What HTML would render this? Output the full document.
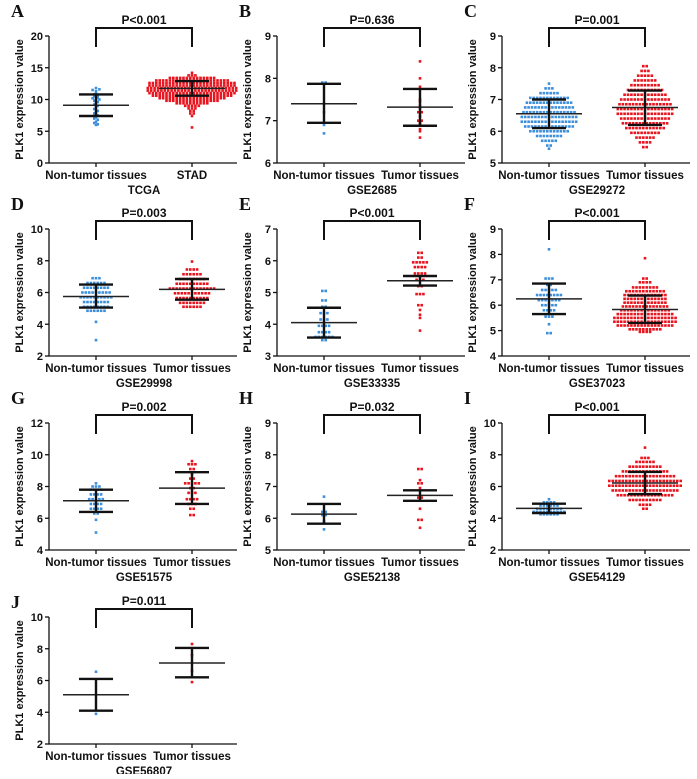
<!DOCTYPE html>
<html><head><meta charset="utf-8"><style>
html,body{margin:0;padding:0;background:#fff;}
svg text{font-family:"Liberation Sans",Arial,sans-serif;font-weight:bold;fill:#111;}
.lt{font-family:"Liberation Serif",serif;font-size:18px;}
</style></head><body>
<svg id="fig" width="697" height="774" viewBox="0 0 697 774" xmlns="http://www.w3.org/2000/svg"></svg>
<script>
// ---- data ----
const panelLetters=["A","B","C","D","E","F","G","H","I","J"];
const datasetTitles=["TCGA","GSE2685","GSE29272","GSE29998","GSE33335","GSE37023","GSE51575","GSE52138","GSE54129","GSE56807"];
const tumorLabels=["STAD","Tumor tissues","Tumor tissues","Tumor tissues","Tumor tissues","Tumor tissues","Tumor tissues","Tumor tissues","Tumor tissues","Tumor tissues"];
const pLabels=["P<0.001","P=0.636","P=0.001","P=0.003","P<0.001","P<0.001","P=0.002","P=0.032","P<0.001","P=0.011"];
const yMins=[0,6,5,2,3,4,4,5,2,2];
const yMaxs=[20,9,9,10,7,9,12,9,10,10];
const yStepsArr=[5,1,1,2,1,1,2,1,2,2];
const normalMean=[9.1,7.4,6.55,5.75,4.05,6.25,7.1,6.13,4.62,5.1];
const normalSdLo=[7.4,6.95,6.1,5.05,3.58,5.65,6.4,5.83,4.33,4.1];
const normalSdHi=[10.8,7.87,7.0,6.5,4.52,6.85,7.8,6.45,4.92,6.1];
const tumorMean=[11.75,7.32,6.75,6.2,5.37,5.83,7.9,6.72,6.22,7.1];
const tumorSdLo=[10.6,6.88,6.2,5.55,5.22,5.3,6.9,6.55,5.52,6.2];
const tumorSdHi=[12.9,7.75,7.28,6.85,5.52,6.38,8.9,6.88,6.92,8.05];
const normalPts=[
"11.8 11.5 11.3 11.0 10.8 10.5 10.3 10.2 10.0 10.0 9.8 9.6 9.5 9.2 9.0 8.8 8.5 8.2 8.0 7.8 7.5 7.2 7.0 6.8 6.5 6.3 6.1 6.0 11.6 10.6",
"7.9*2 7.4 7.2 6.9 6.7",
"7.5 7.35*3 7.2*6 7.05*12 6.9*14 6.75*15 6.6*16 6.45*17 6.3*17 6.15*15 6.0*12 5.85*8 5.7*5 5.55*2 5.45",
"6.9*3 6.6*6 6.3*8 6.0*9 5.7*10 5.4*8 5.1*8 4.85*6 4.15 3.0",
"5.05*2 4.75*2 4.55*2 4.35*3 4.15*3 3.95*4 3.75*4 3.6*6 3.5*2",
"8.2 7.05*3 6.8*2 6.6*5 6.4*8 6.2*7 6.0*5 5.8*4 5.55*3 5.25 4.9*2",
"8.2 8.0*3 7.8*4 7.5*4 7.2*5 6.9*4 6.6*4 6.3*2 5.9 5.1",
"6.68 6.2*2 6.1*2 5.9 5.65",
"5.2 5.0*4 4.8*6 4.6*8 4.4*10 4.25*6",
"6.55 3.9"];
const tumorPts=[
"14.2 13.8*3 13.4*14 13.0*22 12.6*26 12.2*26 11.8*27 11.4*27 11.0*26 10.6*24 10.2*20 9.8*16 9.4*10 9.0*5 8.6*3 8.2*2 7.8*2 7.4 5.6",
"8.4 8.0 7.8 7.75 7.5 7.45 7.35 7.3 7.2*2 7.1 7.0*2 6.95 6.9 6.8 6.75 6.6",
"8.05*2 7.9*3 7.75*5 7.6*7 7.45*9 7.3*11 7.15*13 7.0*15 6.85*16 6.7*17 6.55*17 6.4*15 6.25*14 6.1*12 5.95*9 5.8*6 5.65*4 5.5*2",
"7.95 7.45*4 7.15*6 6.85*8 6.55*10 6.25*14 5.95*11 5.65*10 5.35*8 5.1*6",
"6.25*2 6.1*2 5.95*5 5.8*4 5.6*4 5.4*3 5.2*2 4.95*3 4.6*2 4.45 4.3 4.2 3.8",
"7.85 7.05*2 6.9*4 6.7*8 6.55*12 6.4*13 6.25*13 6.1*13 5.95*14 5.8*15 5.65*17 5.5*19 5.35*19 5.2*17 5.05*10 4.95*4",
"9.6 9.4*3 9.1*2 8.8 8.5*2 8.2*5 7.9*2 7.6*3 7.2*4 6.9*3 6.6*2 6.2*2",
"7.55*2 7.2 7.1*2 6.95 6.65*2 6.3 5.95*2 5.7",
"8.45 7.8*3 7.55*6 7.25*10 6.95*14 6.65*18 6.35*22 6.05*22 5.75*20 5.45*17 5.15*10 4.85*4 4.6*2",
"8.3 7.6 6.6 5.9"];

// ---- layout ----
const colX=[49,277,502];
const rowTop=[36,229,423,617];
const plotH=127;
const NS="http://www.w3.org/2000/svg";
const svg=document.getElementById('fig');
function mk(tag,attrs,parent){const e=document.createElementNS(NS,tag);for(const k in attrs)e.setAttribute(k,attrs[k]);(parent||svg).appendChild(e);return e;}
function parsePts(s){const out=[];s.split(/\s+/).forEach(t=>{if(!t)return;const p=t.split('*');const v=parseFloat(p[0]);const n=p.length>1?parseInt(p[1]):1;for(let i=0;i<n;i++)out.push(v);});return out;}

for(let k=0;k<10;k++){
  const col=k%3,row=Math.floor(k/3);
  const ax=colX[col],top=rowTop[row],bot=top+plotH;
  const c1=ax+47,c2=ax+143,xEnd=ax+188;
  const y=v=>bot-(v-yMins[k])/(yMaxs[k]-yMins[k])*plotH;
  const g=mk('g',{});
  
  
  let t=mk('text',{x:ax-38,y:(row===3?top-15:top-25)+6,class:'lt'},g);t.textContent=panelLetters[k];
  
  let a=mk('path',{d:`M${ax},${top} V${bot} H${xEnd}`,stroke:'#111','stroke-width':1.3,fill:'none'},g);
  
  for(let v=yMins[k];v<=yMaxs[k]+1e-9;v+=yStepsArr[k]){
    mk('line',{x1:ax-4,x2:ax,y1:y(v),y2:y(v),stroke:'#111','stroke-width':1.3},g);
    t=mk('text',{x:ax-6,y:y(v)+4,'text-anchor':'end','font-size':11},g);t.textContent=v;
    
  }
  [c1,c2].forEach(cx=>mk('line',{x1:cx,x2:cx,y1:bot,y2:bot+4,stroke:'#111','stroke-width':1.3},g));
  t=mk('text',{x:ax-26,y:(top+bot)/2,'text-anchor':'middle','font-size':11,transform:`rotate(-90 ${ax-26} ${(top+bot)/2})`},g);
  t.textContent='PLK1 expression value';
  t=mk('text',{x:c1,y:bot+16,'text-anchor':'middle','font-size':11.5},g);t.textContent='Non-tumor tissues';
  
  t=mk('text',{x:c2,y:bot+16,'text-anchor':'middle','font-size':11.5},g);t.textContent=tumorLabels[k];
  
  t=mk('text',{x:(c1+c2)/2,y:bot+31,'text-anchor':'middle','font-size':11.5},g);t.textContent=datasetTitles[k];
  
  a=mk('path',{d:`M${c1},${top+11} V${top-8} H${c2} V${top+11}`,stroke:'#111','stroke-width':2,fill:'none'},g);
  
  t=mk('text',{x:(c1+c2)/2,y:top-12,'text-anchor':'middle','font-size':12},g);t.textContent=pLabels[k];
  
  const groups=[[normalPts[k],c1,'#3d8fdc'],[tumorPts[k],c2,'#e8141e']];
  groups.forEach(([s,cx,color])=>{
    const vals=parsePts(s);const bins={};
    vals.forEach(v=>{const b=Math.round(y(v)/2.2);(bins[b]=bins[b]||[]).push(v);});
    for(const b in bins){const arr=bins[b];const n=arr.length;
      arr.forEach((v,i)=>{
        const dx=(i-(n-1)/2)*3.4;
        const r=mk('rect',{x:cx+dx-1.3,y:y(v)-1.3,width:2.6,height:2.6,fill:color},g);
        
      });}
  });
  const stats=[[c1,normalMean[k],normalSdLo[k],normalSdHi[k]],[c2,tumorMean[k],tumorSdLo[k],tumorSdHi[k]]];
  stats.forEach(([cx,m,lo,hi])=>{
    let l=mk('line',{x1:cx-33,x2:cx+33,y1:y(m),y2:y(m),stroke:'#222','stroke-width':1.5},g);
    
    l=mk('path',{d:`M${cx},${y(lo)} V${y(hi)} M${cx-17},${y(lo)} H${cx+17} M${cx-17},${y(hi)} H${cx+17}`,stroke:'#111','stroke-width':2.4,fill:'none'},g);
    
  });
}
</script>
</body></html>
